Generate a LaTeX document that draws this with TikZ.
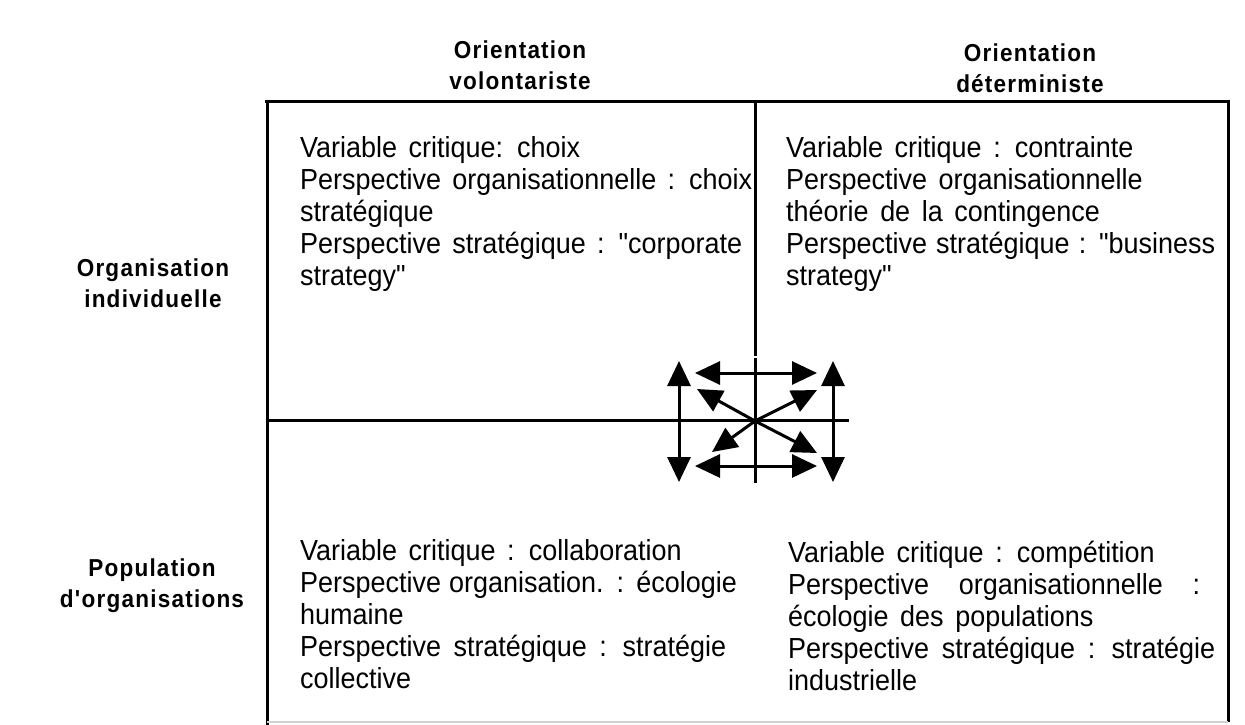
\documentclass[tikz,border=0pt]{standalone}
\usepackage{fontspec}
\setmainfont{Liberation Sans}
\newfontfamily\txtfont[FakeStretch=0.93, Ligatures=TeXOff]{Liberation Sans}
\newfontfamily\hdfont[FakeStretch=0.92, LetterSpace=5]{Liberation Sans}
\usetikzlibrary{arrows.meta}

\newcommand{\jl}[2]{\makebox[#1][s]{#2}}
\newcommand{\widesp}{\spaceskip=0.4em plus 0.4em minus 0.12em\relax}

\tikzset{
  cell/.style={anchor=north west, inner sep=0pt, align=left,
    font=\txtfont\fontsize{29}{32}\selectfont, execute at begin node=\widesp},
  hdr/.style={inner sep=0pt, align=center, font=\hdfont\bfseries\fontsize{24.5}{31}\selectfont},
  rule/.style={line width=3pt},
  tip/.tip={Triangle[length=25pt,width=23pt]},
  dbl/.style={line width=3pt, tip-tip},
  sgl/.style={line width=3pt, -tip}
}

\begin{document}
\begin{tikzpicture}[x=1pt, y=-1pt]
    \useasboundingbox (0,0) rectangle (1245,725);
    % en-tetes
    \node [hdr] (vol) at (520,65) {Orientation\\volontariste};
    \node [hdr] (det) at (1030,68) {Orientation\\déterministe};
    \node [hdr] (ind) at (153,283) {Organisation\\individuelle};
    \node [hdr] (pop) at (152,586) {Population\\d'organisations};
    % cadre
    \coordinate (tl) at (265,101);
    \coordinate (tr) at (1228,101);
    \coordinate (bl) at (267,725);
    \coordinate (br) at (1228,722);
    \coordinate (tm) at (755,101);
    \coordinate (mm) at (755,356);
    \coordinate (ml) at (267,420);
    \coordinate (mr) at (849,420);
    \coordinate (c) at (755,421);
    \draw [rule] (tl) -- (tr) -- (br);
    \draw [rule] (267,101) -- (bl);
    \draw [rule] (tm) -- (mm);
    \draw [rule] (755,358) -- (755,483);
    \draw [rule] (ml) -- (mr);
    \draw [gray!35, line width=1.5pt] (bl |- br) -- (br);
    % fleches
    \draw [dbl] (679,361) -- (679,482);
    \draw [dbl] (833,361) -- (833,482);
    \draw [dbl] (695,373) -- (817,373);
    \draw [dbl] (695,466) -- (817,466);
    \draw [sgl] (c) -- (697,389);
    \draw [sgl] (c) -- (817,390);
    \draw [sgl] (c) -- (712,452);
    \draw [sgl] (c) -- (817,453);
    % cases
    \node [cell] (q1) at (300,136) {Variable critique: choix\\
      \jl{452pt}{Perspective organisationnelle : choix}\\
      stratégique\\
      \jl{442pt}{Perspective stratégique : "corporate}\\
      strategy"};
    \node [cell] (q2) at (786,136) {Variable critique : contrainte\\
      Perspective organisationnelle\\
      théorie de la contingence\\
      \jl{429pt}{Perspective stratégique : "business}\\
      strategy"};
    \node [cell] (q3) at (300,539) {Variable critique : collaboration\\
      \jl{435pt}{Perspective organisation. : écologie}\\
      humaine\\
      \jl{426pt}{Perspective stratégique : stratégie}\\
      collective};
    \node [cell] (q4) at (788,541) {Variable critique : compétition\\
      \jl{412pt}{Perspective organisationnelle :}\\
      écologie des populations\\
      \jl{427pt}{Perspective stratégique : stratégie}\\
      industrielle};
\end{tikzpicture}
\end{document}
